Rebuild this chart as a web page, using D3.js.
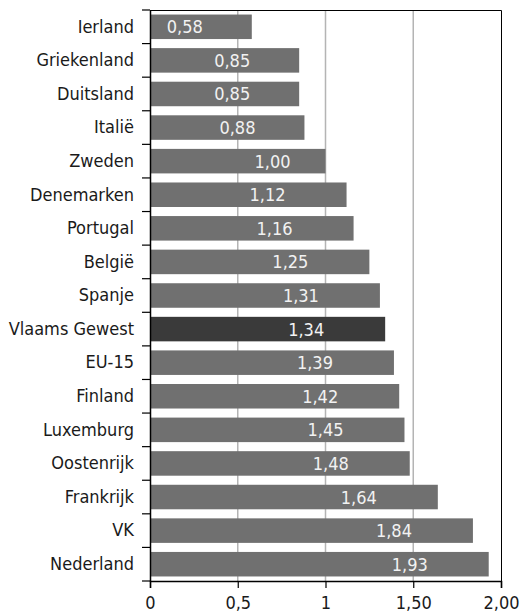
<!DOCTYPE html>
<html>
<head>
<meta charset="utf-8">
<script src="https://cdn.jsdelivr.net/npm/d3@7"></script>
<style>
  body { margin: 0; background: #fff; }
  text { font-family: "DejaVu Sans Condensed", "DejaVu Sans", sans-serif; }
</style>
</head>
<body>
<script>
// categories and values
var countries = ["Ierland", "Griekenland", "Duitsland", "Italië", "Zweden", "Denemarken",
                 "Portugal", "België", "Spanje", "Vlaams Gewest", "EU-15", "Finland",
                 "Luxemburg", "Oostenrijk", "Frankrijk", "VK", "Nederland"];
var values = [0.58, 0.85, 0.85, 0.88, 1.00, 1.12, 1.16, 1.25, 1.31, 1.34, 1.39, 1.42,
              1.45, 1.48, 1.64, 1.84, 1.93];
var highlight = "Vlaams Gewest";
var xTicks = [0, 0.5, 1, 1.5, 2];
var xTickLabels = ["0", "0,5", "1", "1,50", "2,00"];

var width  = 524,
    height = 613,
    margin = {top: 10, right: 23, bottom: 32, left: 150},
    fs = "18px";

var svg = d3.select("body").append("svg")
    .attr("width", width)
    .attr("height", height);

var g = svg.append("g")
    .attr("transform", "translate(" + margin.left + "," + margin.top + ")");

var w = width - margin.left - margin.right,
    h = height - margin.top - margin.bottom;

var x = d3.scaleLinear().domain([0, 2]).range([0, w]);
var y = d3.scaleBand().domain(countries).range([0, h])
    .paddingInner(0.27).paddingOuter(0.135);

var data = countries.map(function(c, i) { return {name: c, value: values[i]}; });

// gridlines
g.selectAll(".grid")
  .data(xTicks.filter(function(d) { return d > 0 && d < 2; }))
  .enter().append("line")
  .attr("x1", function(d) { return x(d); })
  .attr("x2", function(d) { return x(d); })
  .attr("y1", 0)
  .attr("y2", h)
  .attr("stroke", "#b4b4b4")
  .attr("stroke-width", 1.5);

// frame top + right
g.append("path")
  .attr("d", "M0,0.5H" + (w + 0.5) + "V" + h)
  .attr("fill", "none")
  .attr("stroke", "#000")
  .attr("stroke-width", 1);

// bars
g.selectAll(".bar")
  .data(data)
  .enter().append("rect")
  .attr("x", 0)
  .attr("y", function(d) { return y(d.name); })
  .attr("width", function(d) { return x(d.value); })
  .attr("height", y.bandwidth())
  .attr("fill", function(d) { return d.name == highlight ? "#3a3a3a" : "#707070"; });

// value labels (sit a bit in from the bar end, like the original)
var fmt = function(v) { return v.toFixed(2).replace(".", ","); };
g.selectAll(".lbl")
  .data(data)
  .enter().append("text")
  .attr("x", function(d) {
    var off = d.value < 1 ? 67 : (d.value == 1 ? 53 : 79);
    return x(d.value) - off;
  })
  .attr("y", function(d) { return y(d.name) + y.bandwidth() / 2; })
  .attr("dy", "0.36em")
  .attr("text-anchor", "middle")
  .attr("fill", "#f2f2f2")
  .style("font-size", fs)
  .text(function(d) { return fmt(d.value); });

// left axis
var yAxis = g.append("g")
  .call(d3.axisLeft(y).tickSize(0).tickPadding(16));
yAxis.select(".domain").attr("stroke", "#000").attr("stroke-width", 1.5);
yAxis.selectAll("text").style("font-size", fs).attr("fill", "#1a1a1a")
  .style("font-family", "DejaVu Sans Condensed");

// tick marks between categories
var bounds = d3.range(countries.length + 1).map(function(i) { return i * y.step(); });
g.selectAll(".ytick")
  .data(bounds)
  .enter().append("line")
  .attr("x1", -8).attr("x2", 0)
  .attr("y1", function(d) { return d; })
  .attr("y2", function(d) { return d; })
  .attr("stroke", "#000")
  .attr("stroke-width", 1.2);

// bottom axis
var xAxis = g.append("g")
  .attr("transform", "translate(0," + h + ")")
  .call(d3.axisBottom(x).tickValues(xTicks)
    .tickFormat(function(d, i) { return xTickLabels[i]; })
    .tickSize(7).tickPadding(8));
xAxis.select(".domain").attr("stroke", "#000").attr("stroke-width", 1.5);
xAxis.selectAll("line").attr("stroke", "#000").attr("stroke-width", 1.2);
xAxis.selectAll("text").style("font-size", fs).attr("fill", "#1a1a1a")
  .style("font-family", "DejaVu Sans Condensed");
</script>
</body>
</html>
